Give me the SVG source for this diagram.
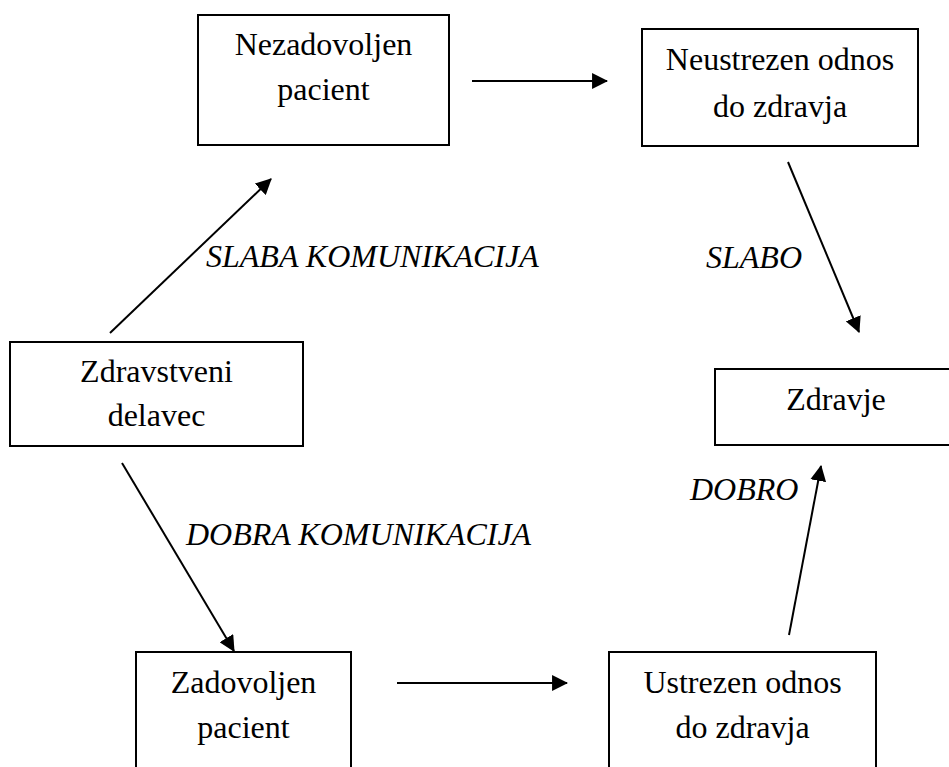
<svg xmlns="http://www.w3.org/2000/svg" width="949" height="767" viewBox="0 0 949 767">
<style>
.box{fill:#fff;stroke:#000;stroke-width:2}
.t{font-family:"Liberation Serif","Times New Roman",serif;font-size:32px;fill:#000;text-anchor:middle}
.l{font-family:"Liberation Serif","Times New Roman",serif;font-size:32px;font-style:italic;fill:#000}
.c{stroke:#000;stroke-width:2;fill:none;marker-end:url(#ah)}
</style>
<defs>
<marker id="ah" markerUnits="userSpaceOnUse" markerWidth="16" markerHeight="16" refX="14" refY="7.5" orient="auto" viewBox="0 0 15 15">
<path d="M0,0 L15,7.5 L0,15 z" fill="#000"/>
</marker>
</defs>
<rect width="949" height="767" fill="#fff"/>
<g id="connectors">
<line class="c" x1="472" y1="81" x2="607" y2="81"/>
<line class="c" x1="397" y1="683" x2="567" y2="683"/>
<line class="c" x1="110" y1="333" x2="271" y2="179"/>
<line class="c" x1="788" y1="162" x2="859" y2="332"/>
<line class="c" x1="122" y1="463" x2="234" y2="651"/>
<line class="c" x1="789" y1="635" x2="821" y2="466"/>
</g>
<g id="labels">
<text class="l" x="206" y="267">SLABA KOMUNIKACIJA</text>
<text class="l" x="186" y="545">DOBRA KOMUNIKACIJA</text>
<text class="l" x="706" y="268">SLABO</text>
<text class="l" x="690" y="500">DOBRO</text>
</g>
<g id="nezadovoljen">
<rect class="box" x="198" y="15" width="251" height="130"/>
<text class="t" x="323.5" y="55">Nezadovoljen</text>
<text class="t" x="323.5" y="100">pacient</text>
</g>
<g id="neustrezen">
<rect class="box" x="642" y="29" width="276" height="117"/>
<text class="t" x="780" y="70">Neustrezen odnos</text>
<text class="t" x="780" y="117">do zdravja</text>
</g>
<g id="zdravstveni">
<rect class="box" x="10" y="342" width="293" height="104"/>
<text class="t" x="156.5" y="382">Zdravstveni</text>
<text class="t" x="156.5" y="426">delavec</text>
</g>
<g id="zdravje">
<rect class="box" x="715" y="369" width="244" height="76"/>
<text class="t" x="836" y="410">Zdravje</text>
</g>
<g id="zadovoljen">
<rect class="box" x="136" y="652" width="215" height="130"/>
<text class="t" x="243.5" y="693">Zadovoljen</text>
<text class="t" x="243.5" y="738">pacient</text>
</g>
<g id="ustrezen">
<rect class="box" x="609" y="652" width="267" height="130"/>
<text class="t" x="742.5" y="693">Ustrezen odnos</text>
<text class="t" x="742.5" y="738">do zdravja</text>
</g>
</svg>
